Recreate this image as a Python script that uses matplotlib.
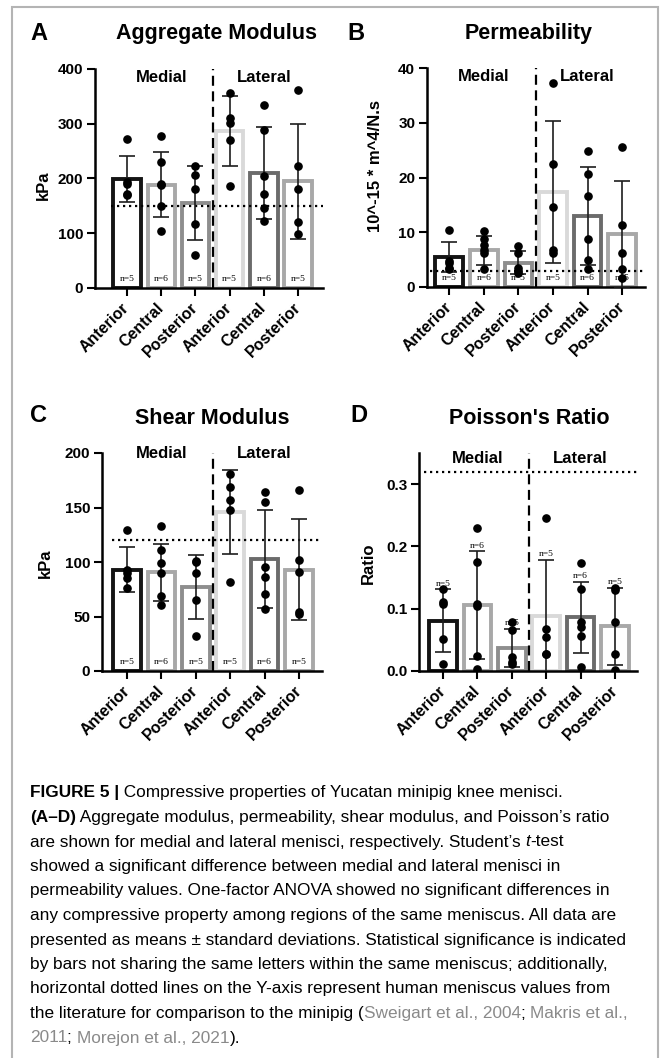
import matplotlib
matplotlib.use('Agg')
import matplotlib.pyplot as plt
from matplotlib import font_manager
from matplotlib.patches import Rectangle
import numpy as np

W, H = 665, 1058

regions = ['Anterior', 'Central', 'Posterior', 'Anterior', 'Central', 'Posterior']
n_labels = ['n=5', 'n=6', 'n=5', 'n=5', 'n=6', 'n=5']
edge_colors = ['#141414', '#a8a8a8', '#8e8e8e', '#d9d9d9', '#6b6b6b', '#a8a8a8']

# aggregate modulus (kPa)
agg_mean = [199, 189, 155, 286, 210, 195]
agg_sd = [42, 60, 67, 64, 84, 105]
agg_pts = [[272, 193, 190, 172, 170],
           [277, 231, 190, 188, 149, 105],
           [223, 207, 181, 117, 61],
           [356, 310, 302, 271, 187],
           [335, 288, 204, 172, 147, 122],
           [362, 222, 181, 121, 98]]
agg_ref = 150

# permeability (10^-15 m^4/N.s)
perm_mean = [5.5, 6.7, 4.4, 17.3, 13.0, 9.6]
perm_sd = [2.8, 2.7, 2.1, 13.0, 8.9, 9.7]
perm_pts = [[10.5, 4.8, 4.4, 3.5, 3.2],
            [10.2, 8.8, 7.7, 6.8, 6.2, 3.3],
            [7.4, 6.3, 3.5, 2.9, 2.6],
            [37.3, 22.4, 14.6, 6.8, 6.2],
            [24.9, 20.7, 16.6, 8.7, 4.9, 3.3],
            [25.6, 11.4, 6.3, 3.3, 1.6]]
perm_ref = 3.0

# shear modulus (kPa)
shear_mean = [93, 90.5, 77, 146, 103, 93]
shear_sd = [20.5, 26, 29.5, 38.5, 45, 46.5]
shear_pts = [[129, 93, 90, 85, 76],
             [133, 111, 99, 90, 69, 61],
             [101, 100, 90, 65, 32],
             [181, 169, 157, 148, 82],
             [164, 155, 95, 86, 71, 57],
             [166, 102, 91, 54, 52]]
shear_ref = 120

# poisson's ratio
ratio_mean = [0.081, 0.106, 0.037, 0.088, 0.086, 0.072]
ratio_sd = [0.050, 0.086, 0.031, 0.091, 0.057, 0.062]
ratio_pts = [[0.131, 0.111, 0.107, 0.052, 0.011],
             [0.229, 0.175, 0.107, 0.104, 0.024, 0.003],
             [0.079, 0.066, 0.023, 0.015, 0.011],
             [0.246, 0.068, 0.054, 0.027, 0.027],
             [0.173, 0.132, 0.079, 0.070, 0.056, 0.007],
             [0.134, 0.130, 0.079, 0.027, 0.001]]
ratio_ref = 0.32


def has_font(name):
    try:
        font_manager.findfont(name, fallback_to_default=False)
        return True
    except Exception:
        return False


SANS = ['Liberation Sans', 'DejaVu Sans']
NARROW = 'Liberation Sans Narrow' if has_font('Liberation Sans Narrow') else 'Liberation Sans'

plt.rcParams['font.family'] = SANS
plt.rcParams['mathtext.fontset'] = 'custom'
plt.rcParams['mathtext.it'] = NARROW + ':italic'


def rect(left, top, right, bottom):
    return [left / W, 1 - bottom / H, (right - left) / W, (bottom - top) / H]


def fx(x):
    return x / W


def fy(y):
    return 1 - y / H


def panel(ax, means, sds, pts, ylim, yticks, ref, xlim, ref_start, group_y, n_top, fmt):
    x = np.arange(len(regions))
    ax.bar(x, means, width=0.8, color='white', edgecolor=edge_colors, linewidth=2.8, zorder=2)
    ax.hlines(ref, ref_start, xlim[1], colors='black', linestyles=(0, (1, 1.7)), linewidth=1.6, zorder=3)
    ax.axvline(2.5, color='black', ls=(0, (4.5, 2.5)), lw=1.6, zorder=3)
    ax.errorbar(x, means, yerr=sds, fmt='none', ecolor='#1e1e1e', elinewidth=1.2,
                capsize=5.5, capthick=1.2, zorder=4)
    for i in range(len(regions)):
        ax.plot(np.full(len(pts[i]), x[i]), pts[i], 'o', color='black', ms=5.2, zorder=5)
        if n_top:
            ax.text(x[i], means[i] + sds[i] + 0.003, n_labels[i], ha='center', va='bottom',
                    family='Liberation Serif', fontsize=6.8, zorder=6)
        else:
            ax.text(x[i], ylim[1] * 0.04, n_labels[i], ha='center', va='center',
                    family='Liberation Serif', fontsize=6.8, zorder=6)
    tr = ax.get_xaxis_transform()
    ax.text(1, group_y, 'Medial', transform=tr, ha='center', va='center',
            fontsize=12, fontweight='bold')
    ax.text(4, group_y, 'Lateral', transform=tr, ha='center', va='center',
            fontsize=12, fontweight='bold')
    ax.set_xlim(*xlim)
    ax.set_ylim(*ylim)
    ax.set_yticks(yticks, [fmt % t for t in yticks], fontsize=11, fontweight='bold')
    ax.set_xticks(x, regions, rotation=45, ha='right', va='center', rotation_mode='anchor',
                  fontsize=11.5, fontweight='bold')
    ax.tick_params(axis='both', direction='out', length=5.5, width=1.5, pad=3)
    ax.tick_params(axis='x', pad=7)
    for s in ['top', 'right']:
        ax.spines[s].set_visible(False)
    for s in ['left', 'bottom']:
        ax.spines[s].set_linewidth(1.8)


fig = plt.figure(figsize=(W / 100, H / 100), dpi=100)

axA = fig.add_axes(rect(95, 69, 323, 288))
panel(axA, agg_mean, agg_sd, agg_pts, (0, 400), [0, 100, 200, 300, 400], agg_ref,
      (-0.936, 5.73), -0.47, 0.963, False, '%d')
axB = fig.add_axes(rect(427, 68, 645, 287))
panel(axB, perm_mean, perm_sd, perm_pts, (0, 40), [0, 10, 20, 30, 40], perm_ref,
      (-0.64, 5.66), -0.55, 0.96, False, '%d')
axC = fig.add_axes(rect(102, 453, 322, 671))
panel(axC, shear_mean, shear_sd, shear_pts, (0, 200), [0, 50, 100, 150, 200], shear_ref,
      (-0.73, 5.67), -0.44, 1.0, False, '%d')
axD = fig.add_axes(rect(419, 453, 637, 671))
panel(axD, ratio_mean, ratio_sd, ratio_pts, (0, 0.35), [0.0, 0.1, 0.2, 0.3], ratio_ref,
      (-0.70, 5.64), -0.55, 0.973, True, '%.1f')

# panel letters, titles, y labels
for letter, lx, ly in [('A', 30, 33), ('B', 347, 33), ('C', 30, 415), ('D', 350, 415)]:
    fig.text(fx(lx), fy(ly), letter, ha='left', va='center', fontsize=17, fontweight='bold')
for title, tx, ty in [('Aggregate Modulus', 217, 33), ('Permeability', 529, 33),
                      ('Shear Modulus', 212, 418), ("Poisson's Ratio", 529, 418)]:
    fig.text(fx(tx), fy(ty), title, ha='center', va='center', fontsize=15.5, fontweight='bold')
for lab, lx, ly in [('kPa', 43, 185), ('10^-15 * m^4/N.s', 376, 166),
                    ('kPa', 45, 563), ('Ratio', 368, 563)]:
    fig.text(fx(lx), fy(ly), lab, ha='center', va='center', rotation=90,
             fontsize=12, fontweight='bold')

# grey frame
fig.patches.append(Rectangle((fx(12), -0.1), fx(658) - fx(12), fy(7) + 0.1, fill=False,
                             edgecolor='#b4b4b4', linewidth=1.5, transform=fig.transFigure))

# caption
cap = fig.add_axes([0, 0, 1, 1])
cap.axis('off')
cap.set_xlim(0, 1)
cap.set_ylim(0, 1)

GREY = '#8a8a8a'
caption = [
    [('FIGURE 5 |', 'bold', 'black'), (' Compressive properties of Yucatan minipig knee menisci.', 'normal', 'black')],
    [('(A–D)', 'bold', 'black'), (' Aggregate modulus, permeability, shear modulus, and Poisson’s ratio', 'normal', 'black')],
    [('are shown for medial and lateral menisci, respectively. Student’s ', 'normal', 'black'),
     ('t', 'italic', 'black'), ('-test', 'normal', 'black')],
    [('showed a significant difference between medial and lateral menisci in', 'normal', 'black')],
    [('permeability values. One-factor ANOVA showed no significant differences in', 'normal', 'black')],
    [('any compressive property among regions of the same meniscus. All data are', 'normal', 'black')],
    [('presented as means ± standard deviations. Statistical significance is indicated', 'normal', 'black')],
    [('by bars not sharing the same letters within the same meniscus; additionally,', 'normal', 'black')],
    [('horizontal dotted lines on the Y-axis represent human meniscus values from', 'normal', 'black')],
    [('the literature for comparison to the minipig (', 'normal', 'black'), ('Sweigart et al., 2004', 'normal', GREY),
     ('; ', 'normal', 'black'), ('Makris et al.,', 'normal', GREY)],
    [('2011', 'normal', GREY), ('; ', 'normal', 'black'), ('Morejon et al., 2021', 'normal', GREY),
     (').', 'normal', 'black')],
]

# fit caption font so the longest line spans like the original (x 30 -> 628 px)
renderer = fig.canvas.get_renderer()
probe = cap.text(0, 0, caption[6][0][0], fontsize=10, family=[NARROW, 'DejaVu Sans'])
probe_w = probe.get_window_extent(renderer).width
probe.remove()
cap_size = 10 * 598 / probe_w

y0 = 793
for k, pieces in enumerate(caption):
    yy = fy(y0 + 24.5 * k)
    prev = None
    for txt, style, col in pieces:
        kw = dict(fontsize=cap_size, color=col, family=[NARROW, 'DejaVu Sans'])
        if style == 'bold':
            kw['fontweight'] = 'bold'
        elif style == 'italic':
            kw['fontstyle'] = 'italic'
        if prev is None:
            prev = cap.text(fx(30), yy, txt, ha='left', va='center', **kw)
        else:
            prev = cap.annotate(txt, xy=(1, 0), xycoords=prev, ha='left', va='bottom', **kw)

fig.savefig('out.png', dpi=100)
